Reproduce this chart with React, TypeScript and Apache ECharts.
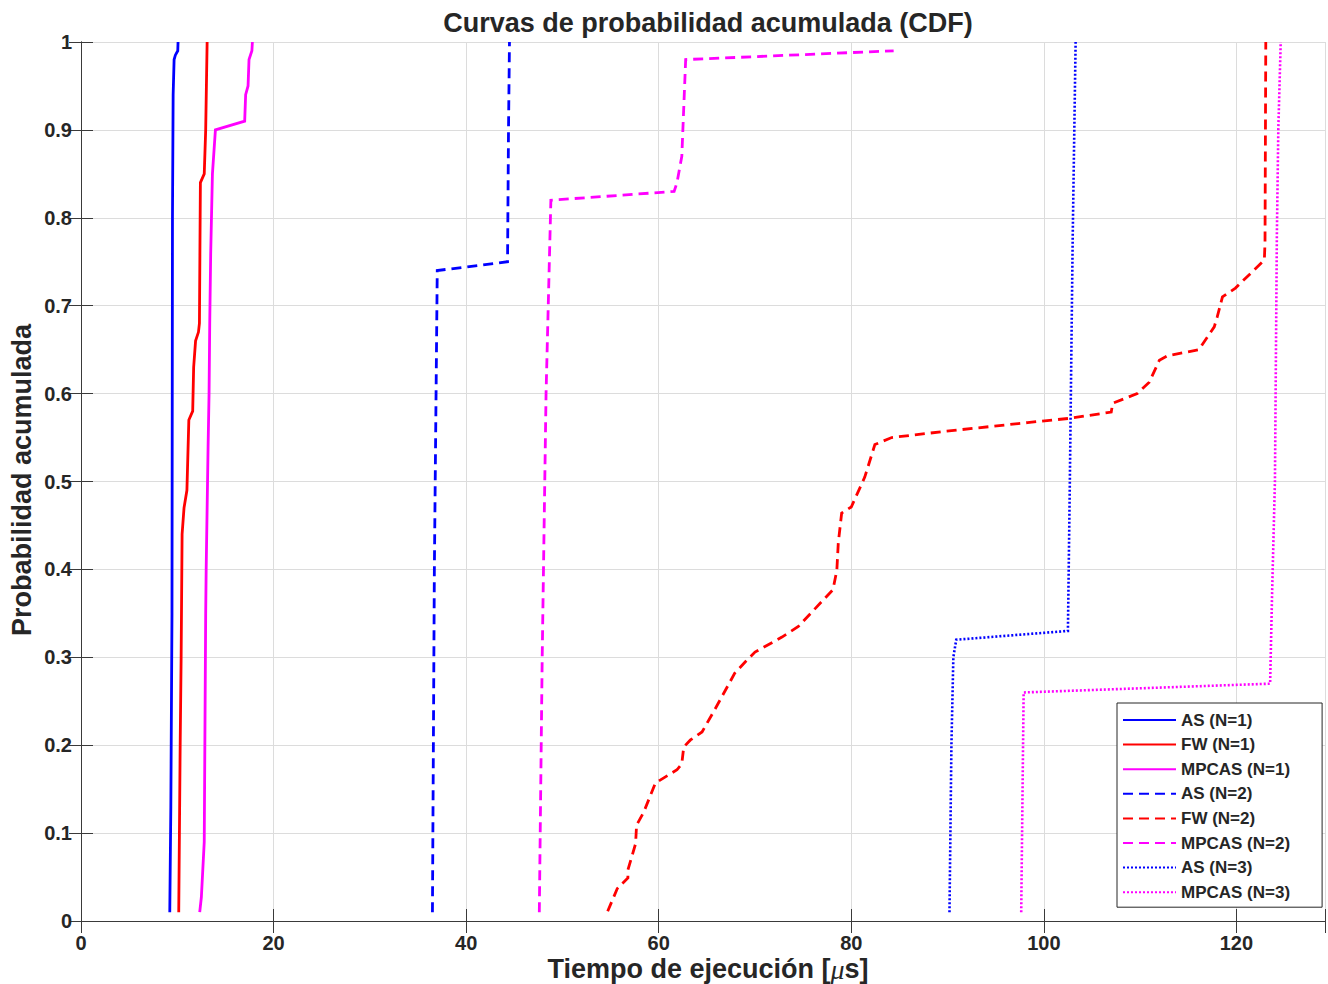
import React, { useEffect, useRef } from 'react';
import * as echarts from 'echarts';

// Tick values
const xTicks = [0, 20, 40, 60, 80, 100, 120];
const yTicks = [0, 0.1, 0.2, 0.3, 0.4, 0.5, 0.6, 0.7, 0.8, 0.9, 1];

// Execution time [µs] (x) and cumulative probability (p) for each curve
const asN1X = [9.22, 9.33, 9.45, 9.5, 9.57, 9.67, 9.8, 10.05, 10.08];
const asN1P = [0.01, 0.13, 0.35, 0.8, 0.94, 0.98, 0.985, 0.99, 1.0];

const fwN1X = [10.15, 10.3, 10.4, 10.5, 10.7, 11.0, 11.2, 11.6, 11.7, 11.9, 12.2, 12.3, 12.4, 12.8, 12.95, 13.1];
const fwN1P = [0.01, 0.2, 0.3, 0.44, 0.47, 0.49, 0.57, 0.58, 0.63, 0.66, 0.67, 0.68, 0.84, 0.85, 0.9, 1.0];

const mpN1X = [12.33, 12.5, 12.8, 12.95, 13.0, 13.2, 13.3, 13.37, 13.47, 13.65, 13.96, 17.0, 17.1, 17.35, 17.45, 17.75, 17.8];
const mpN1P = [0.01, 0.027, 0.09, 0.35, 0.4, 0.54, 0.6, 0.68, 0.76, 0.85, 0.9, 0.91, 0.94, 0.95, 0.98, 0.99, 1.0];

const asN2X = [36.5, 36.7, 37.0, 44.3, 44.4, 44.5];
const asN2P = [0.01, 0.4, 0.74, 0.75, 0.9, 1.0];

const fwN2X = [54.7, 55.7, 56.8, 56.8, 57.6, 57.7, 58.45, 59.66, 61.9, 62.4, 62.6, 63.3, 64.5, 65.9, 67.9, 69.0, 70.0, 72.8, 74.5, 78.1, 78.5, 78.65, 79.0, 80.0, 81.4, 82.45, 84.2, 89.7, 98.3, 102.8, 107.0, 107.15, 109.7, 110.95, 112.0, 112.85, 116.1, 117.7, 118.0, 118.55, 119.9, 122.9, 122.97, 123.05];
const fwN2P = [0.011, 0.037, 0.049, 0.058, 0.088, 0.109, 0.124, 0.157, 0.172, 0.179, 0.198, 0.206, 0.215, 0.242, 0.282, 0.295, 0.306, 0.323, 0.335, 0.377, 0.399, 0.43, 0.464, 0.471, 0.505, 0.542, 0.55, 0.557, 0.567, 0.572, 0.579, 0.589, 0.6, 0.613, 0.638, 0.643, 0.65, 0.676, 0.687, 0.71, 0.72, 0.752, 0.772, 1.0];

const mpN2X = [47.6, 47.9, 48.3, 48.8, 61.6, 61.9, 62.4, 62.8, 84.4];
const mpN2P = [0.01, 0.3, 0.6, 0.82, 0.83, 0.84, 0.87, 0.98, 0.99];

const asN3X = [90.2, 90.4, 90.6, 90.9, 102.5, 102.7, 103.0, 103.3];
const asN3P = [0.01, 0.2, 0.3, 0.32, 0.33, 0.5, 0.78, 1.0];

const mpN3X = [97.65, 97.9, 123.5, 123.7, 124.0, 124.2, 124.35, 124.6];
const mpN3P = [0.01, 0.26, 0.27, 0.37, 0.5, 0.78, 0.9, 1.0];

const seriesNames = ['AS (N=1)', 'FW (N=1)', 'MPCAS (N=1)', 'AS (N=2)', 'FW (N=2)', 'MPCAS (N=2)', 'AS (N=3)', 'MPCAS (N=3)'];

const FONT = "'Liberation Sans', Arial, Helvetica, sans-serif";
const TEXT = '#262626';
const BLUE = '#0000ff';
const RED = '#ff0000';
const MAGENTA = '#ff00ff';

const zip = (xs: number[], ps: number[]) => xs.map((x, i) => [x, ps[i]]);

export default function App() {
  const ref = useRef<HTMLDivElement>(null);

  useEffect(() => {
    if (!ref.current) return;
    const chart = echarts.init(ref.current, undefined, { renderer: 'svg' });

    const curves: { x: number[]; p: number[]; color: string; dash: any; width: number }[] = [
      { x: asN1X, p: asN1P, color: BLUE, dash: 'solid', width: 2.8 },
      { x: fwN1X, p: fwN1P, color: RED, dash: 'solid', width: 2.8 },
      { x: mpN1X, p: mpN1P, color: MAGENTA, dash: 'solid', width: 2.8 },
      { x: asN2X, p: asN2P, color: BLUE, dash: [10, 6], width: 2.8 },
      { x: fwN2X, p: fwN2P, color: RED, dash: [10, 6], width: 2.8 },
      { x: mpN2X, p: mpN2P, color: MAGENTA, dash: [10, 6], width: 2.8 },
      { x: asN3X, p: asN3P, color: BLUE, dash: [2, 2], width: 2.6 },
      { x: mpN3X, p: mpN3P, color: MAGENTA, dash: [2, 2], width: 2.6 },
    ];

    const xMin = xTicks[0];
    const xMax = 129.2;
    const xStep = xTicks[1] - xTicks[0];
    const yMin = yTicks[0];
    const yMax = yTicks[yTicks.length - 1];
    const yStep = 0.1;

    const boxLine = { show: true, lineStyle: { color: '#3a3a3a', width: 1 } };
    const tickIn = { show: true, inside: true, length: 12, lineStyle: { color: '#3a3a3a', width: 1 } };

    chart.setOption({
      animation: false,
      backgroundColor: '#ffffff',
      grid: { left: 81, top: 42, right: 1, bottom: 63, containLabel: false },
      graphic: [
        {
          type: 'text',
          x: 708,
          y: 23,
          style: {
            text: 'Curvas de probabilidad acumulada (CDF)',
            font: `bold 27px ${FONT}`,
            fill: TEXT,
            textAlign: 'center',
            textVerticalAlign: 'middle',
          },
        },
        {
          type: 'text',
          x: 708,
          y: 969,
          style: {
            text: 'Tiempo de ejecución [{i|μ}s]',
            font: `bold 27px ${FONT}`,
            fill: TEXT,
            textAlign: 'center',
            textVerticalAlign: 'middle',
            rich: {
              i: {
                fontFamily: "'Liberation Serif', 'DejaVu Serif', serif",
                fontStyle: 'italic',
                fontWeight: 'normal',
                fontSize: 28,
                fill: TEXT,
              },
            },
          },
        },
        {
          type: 'text',
          x: 22,
          y: 480,
          rotation: Math.PI / 2,
          style: {
            text: 'Probabilidad acumulada',
            font: `bold 27px ${FONT}`,
            fill: TEXT,
            textAlign: 'center',
            textVerticalAlign: 'middle',
          },
        },
      ],
      legend: {
        orient: 'vertical',
        left: 1117,
        top: 703,
        data: seriesNames,
        itemWidth: 53,
        itemHeight: 14,
        itemGap: 7.6,
        padding: [8.5, 32, 6.5, 5],
        backgroundColor: '#ffffff',
        borderColor: '#262626',
        borderWidth: 1,
        borderRadius: 0,
        itemStyle: { opacity: 0, borderWidth: 0 },
        textStyle: { color: TEXT, fontFamily: FONT, fontWeight: 'bold', fontSize: 17, lineHeight: 17, padding: [0, 0, 0, 0] },
      },
      xAxis: [
        {
          type: 'value',
          position: 'bottom',
          min: xMin,
          max: xMax,
          interval: xStep,
          axisLine: boxLine,
          axisTick: tickIn,
          axisLabel: {
            color: TEXT,
            fontFamily: FONT,
            fontWeight: 'bold',
            fontSize: 20,
            margin: 12,
            formatter: (v: number) => (xTicks.includes(v) ? String(v) : ''),
          },
          splitLine: { show: true, lineStyle: { color: '#dcdcdc', width: 1 } },
        },
        {
          type: 'value',
          position: 'top',
          min: xMin,
          max: xMax,
          interval: xStep,
          axisLine: boxLine,
          axisTick: tickIn,
          axisLabel: { show: false },
          splitLine: { show: false },
        },
      ],
      yAxis: [
        {
          type: 'value',
          position: 'left',
          min: yMin,
          max: yMax,
          interval: yStep,
          axisLine: boxLine,
          axisTick: tickIn,
          axisLabel: {
            color: TEXT,
            fontFamily: FONT,
            fontWeight: 'bold',
            fontSize: 20,
            margin: 9,
          },
          splitLine: { show: true, lineStyle: { color: '#dcdcdc', width: 1 } },
        },
        {
          type: 'value',
          position: 'right',
          min: yMin,
          max: yMax,
          interval: yStep,
          axisLine: boxLine,
          axisTick: tickIn,
          axisLabel: { show: false },
          splitLine: { show: false },
        },
      ],
      series: curves.map((c, i) => ({
        name: seriesNames[i],
        type: 'line',
        xAxisIndex: 0,
        yAxisIndex: 0,
        data: zip(c.x, c.p),
        symbol: 'none',
        showSymbol: false,
        clip: true,
        lineStyle: { color: c.color, width: c.width, type: c.dash, cap: 'butt', join: 'miter' },
        itemStyle: { color: c.color },
        emphasis: { disabled: true },
      })),
    });

    return () => chart.dispose();
  }, []);

  return (
    <div
      ref={ref}
      style={{ position: 'fixed', left: 0, top: 0, width: 1328, height: 984, background: '#fff' }}
    />
  );
}
